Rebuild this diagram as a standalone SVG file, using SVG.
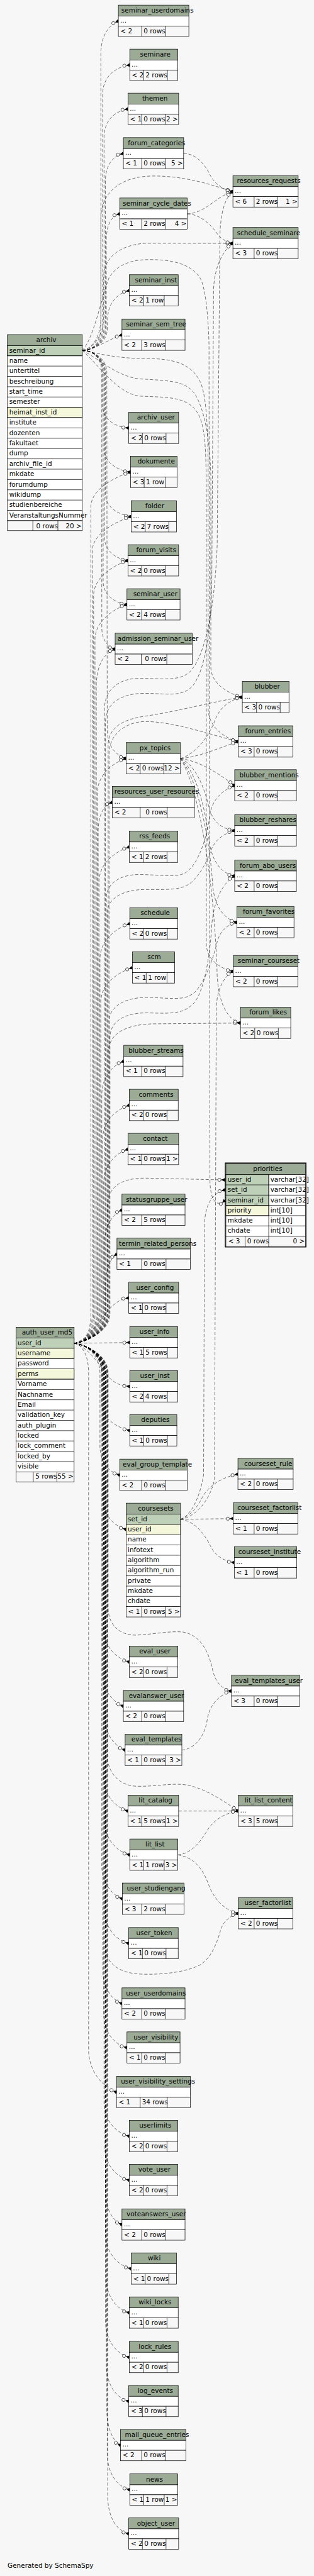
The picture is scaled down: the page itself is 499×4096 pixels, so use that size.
<svg xmlns="http://www.w3.org/2000/svg" width="499" height="4096" viewBox="0 0 499 4096">
<style>
.hd{fill:#9bab96;stroke:#000;stroke-width:1}
.bd{fill:#fff;stroke:#000;stroke-width:1}
.ft{fill:#f7f7f7;stroke:#000;stroke-width:1}
.pk{fill:#bed1b8;stroke:#000;stroke-width:1}
.ix{fill:#f4f7da;stroke:#000;stroke-width:1}
.dv{stroke:#000;stroke-width:1;fill:none}
text{font-family:"DejaVu Sans",sans-serif;font-size:14.5px;fill:#000}
.e{text-anchor:end}
#connectors path{fill:none;stroke:#000;stroke-width:.75;stroke-dasharray:7 4;marker-end:url(#cf)}
</style>
<defs>
<marker id="cf" viewBox="-17 -6 18 12" refX="0" refY="0" markerWidth="18" markerHeight="12" markerUnits="userSpaceOnUse" orient="auto">
<circle cx="-12" cy="0" r="3.6" fill="#fff" stroke="#000" stroke-width="0.9"/>
<path d="M-8,0 L0,-4 L0,4 Z" fill="#000"/>
</marker>
</defs>
<rect width="499" height="4096" fill="#f7f7f7"/>
<g transform="scale(0.7221 0.7216)">
<g id="connectors">
<path d="M181,772 C205,772 222,755 222,720 L222,115 C223,80 238,56 260.5,46.3"/>
<path d="M181,772 C205,772 226,755 226,720 L226,205 C227,172 250,148 285.6,143.3"/>
<path d="M181,772 C205,772 229,755 229,720 L229,300 C230,268 250,245 281.6,240.3"/>
<path d="M181,772 C205,772 232,755 232,720 L232,395 C233,365 248,343 271.5,338.3"/>
<path d="M181,772 C205,772 234,755 234,720 L234,525 C235,495 245,476 263.5,471.3"/>
<path d="M181,772 C205,772 236,755 236,725 L237,700 C238,668 258,646 284.7,640.3"/>
<path d="M181,772 C210,770 238,748 268.4,738"/>
<path d="M181,772 C205,772 226,790 226,820 L226,895 C227,925 252,940 283.4,943.3"/>
<path d="M181,772 C205,772 229,790 229,820 L229,990 C230,1020 258,1036 287.3,1040.3"/>
<path d="M181,772 C205,772 232,790 232,820 L232,1090 C233,1118 260,1134 288.7,1138.3"/>
<path d="M181,772 C205,772 230,790 230,820 L230,1185 C231,1215 255,1231 281.6,1235.3"/>
<path d="M181,772 C205,772 227,790 227,820 L227,1282 C228,1312 252,1328 279.4,1332.3"/>
<path d="M181,772 C205,772 224,790 224,820 L224,1385 C225,1410 236,1425 253.4,1430.3"/>
<path d="M181,772 C205,772 235,790 235,820 L236,1610 C237,1645 255,1665 277.7,1671.3"/>
<path d="M181,772 C205,768 222,740 222,700 L222,480 C223,420 270,390 330,388 C400,386 460,405 512.6,422.3"/>
<path d="M181,772 C205,768 228,740 228,700 L228,610 C229,568 262,540 320,536 L512.6,536.3"/>
<path d="M404.1,338.3 C430,338 450,360 462,385 C472,405 490,418 512.6,422.3"/>
<path d="M412.1,471.3 C440,470 460,452 475,442 C488,432 500,426 512.6,422.3"/>
<path d="M412.1,471.3 C440,472 465,495 478,515 C488,528 500,534 512.6,536.3"/>
<path d="M181,772 C220,780 260,790 320,790 C380,790 420,800 440,840 C455,870 458,950 458,1050 L458,1560 C458,1600 490,1625 524.5,1634.3"/>
<path d="M181,772 C220,792 260,832 310,835 C370,839 410,838 430,870 C448,900 462,960 464,1050 L464,1470 C464,1505 500,1528 533.3,1536.3"/>
<path d="M181,772 C215,802 260,870 310,873 C370,876 420,872 440,920 C452,950 454,1000 454,1100 L454,2080 C455,2115 485,2135 513.4,2140.3"/>
<path d="M181,772 C205,750 225,650 240,612 C258,582 290,572 330,572 C380,572 420,582 440,612 C452,632 458,690 460,760 L462,2600 C463,2650 478,2660 494.9,2645"/>
<path d="M163,2960 C188,2958 200,2935 200,2895 L200,1115 C202,1075 257,1050 287.3,1040.3"/>
<path d="M163,2960 C188,2958 203,2935 203,2895 L203,1213 C205,1173 259,1148 288.7,1138.3"/>
<path d="M163,2960 C188,2958 206,2935 206,2895 L206,1310 C208,1270 252,1245 281.6,1235.3"/>
<path d="M163,2960 C188,2958 209,2935 209,2895 L209,1407 C211,1367 250,1342 279.4,1332.3"/>
<path d="M163,2960 C188,2958 212,2935 212,2895 L212,1505 C214,1465 228,1440 253.4,1430.3"/>
<path d="M163,2960 C188,2958 214,2935 214,2895 L214,1746 C216,1706 248,1681 277.7,1671.3"/>
<path d="M163,2960 C188,2958 216,2935 216,2895 L216,1830 C217,1795 228,1774 247.2,1768"/>
<path d="M163,2960 C188,2958 218,2935 218,2895 L218,1940 C220,1900 255,1876 284.7,1866.3"/>
<path d="M163,2960 C188,2958 220,2935 220,2895 L220,2110 C222,2070 256,2045 285.6,2035.3"/>
<path d="M163,2960 C188,2958 222,2935 222,2895 L222,2205 C224,2165 262,2142 291.3,2132.3"/>
<path d="M163,2960 C188,2958 224,2935 224,2895 L224,2410 C226,2370 248,2348 272.4,2338.3"/>
<path d="M163,2960 C188,2958 226,2935 226,2895 L226,2508 C228,2468 256,2445 284.7,2435.3"/>
<path d="M163,2960 C188,2958 228,2935 228,2895 L228,2605 C230,2565 254,2542 281.6,2532.3"/>
<path d="M163,2960 C188,2958 230,2935 230,2895 L230,2735 C232,2700 248,2675 268.4,2666.3"/>
<path d="M163,2960 C188,2958 232,2935 232,2895 L232,2830 C233,2795 243,2772 257.4,2763.3"/>
<path d="M163,2960 C200,2950 225,2900 240,2885 C255,2870 265,2862 283.4,2860.3"/>
<path d="M163,2960 L285.6,2958.3"/>
<path d="M163,2960 C188,2958 236,2935 236,2895 L236,2660 C237,2615 265,2596 320,2596 L494.9,2600"/>
<path d="M163,2960 C188,2958 238,2935 238,2895 L238,2320 C239,2278 275,2257 340,2256 L529.3,2254.3"/>
<path d="M163,2960 C188,2958 240,2935 240,2895 L240,2250 C241,2215 280,2196 330,2198 C385,2200 410,2205 430,2185 C452,2162 470,2110 478,2075 C485,2050 500,2038 521.4,2032.3"/>
<path d="M163,2960 C188,2958 242,2935 242,2895 L242,2285 C243,2250 275,2230 330,2232 C385,2234 405,2232 425,2212 C448,2190 462,2110 466,2040 C470,1985 490,1945 516.5,1930.3"/>
<path d="M163,2960 C188,2958 236,2935 236,2895 L236,2010 C237,1980 270,1960 320,1960 C370,1960 400,1962 420,1945 C440,1928 455,1900 465,1872 C475,1848 495,1836 516.5,1830.3"/>
<path d="M163,2960 C188,2958 234,2935 234,2895 L234,1978 C235,1946 265,1926 310,1927 C360,1928 390,1935 410,1922 C440,1900 456,1840 462,1795 C467,1760 492,1740 516.5,1731"/>
<path d="M163,2960 C188,2958 238,2935 238,2895 L238,1640 C239,1605 268,1585 320,1578 C400,1566 470,1545 533.3,1536.3"/>
<path d="M163,2960 C188,2958 240,2935 240,2895 L240,1660 C241,1615 280,1590 320,1590 C380,1590 450,1615 524.5,1634.3"/>
<path d="M163,2960 C188,2958 230,2935 230,2895 L230,1560 C231,1520 260,1497 300,1495 C350,1493 395,1505 420,1478 C450,1445 472,1350 478,1200 L484,520 C485,470 495,435 512.6,422.3"/>
<path d="M163,2960 C188,2958 232,2935 232,2895 L232,1590 C233,1550 265,1530 310,1528 C360,1526 400,1540 425,1510 C450,1478 462,1400 466,1300 L470,640 C471,590 490,552 512.6,536.3"/>
<path d="M397.1,1671.3 C430,1662 458,1625 472,1590 C482,1560 505,1542 533.3,1536.3"/>
<path d="M397.1,1671.3 C440,1668 480,1648 524.5,1634.3"/>
<path d="M397.1,1671.3 C440,1678 475,1700 516.5,1731"/>
<path d="M397.1,1671.3 C430,1685 450,1735 460,1780 C470,1815 490,1826 516.5,1830.3"/>
<path d="M397.1,1671.3 C430,1695 452,1780 460,1850 C466,1900 488,1925 516.5,1930.3"/>
<path d="M397.1,1671.3 C435,1715 462,1850 468,1950 C472,2000 495,2026 521.4,2032.3"/>
<path d="M397.1,1671.3 C440,1740 472,1950 478,2150 C482,2220 505,2248 529.3,2254.3"/>
<path d="M397.1,3347.8 C420,3340 440,3300 448,3250 L450,2700 C451,2650 470,2628 494.9,2622"/>
<path d="M397.1,3347.8 C425,3345 462,3310 472,3260 L476,2220 C478,2175 495,2150 513.4,2140.3"/>
<path d="M397.1,3347.8 C420,3340 435,3320 445,3300 C460,3272 490,3255 523.6,3248.3"/>
<path d="M397.1,3347.8 L513.4,3346.3"/>
<path d="M397.1,3347.8 C430,3352 450,3380 465,3410 C475,3430 495,3440 515.6,3443.3"/>
<path d="M163,2960 C200,2970 225,3020 240,3035 C255,3050 265,3053 285.6,3055.3"/>
<path d="M163,2960 C188,2962 224,2985 224,3025 L224,3095 C226,3125 255,3145 285.6,3152.3"/>
<path d="M163,2960 C188,2962 220,2985 220,3025 L220,3190 C222,3225 240,3243 263.5,3250.3"/>
<path d="M163,2960 C188,2962 226,2985 226,3025 L226,3300 C228,3340 250,3362 277.7,3370.3"/>
<path d="M163,2960 C188,2962 228,2985 228,3025 L228,3590 C230,3630 256,3654 284.7,3662.3"/>
<path d="M163,2960 C188,2962 225,2985 225,3025 L225,3690 C227,3725 248,3750 271.5,3759.7"/>
<path d="M163,2960 C188,2962 230,2985 230,3025 L230,3785 C232,3822 252,3848 275.4,3856.3"/>
<path d="M163,2960 C188,2962 228,2985 228,3025 L228,3920 C230,3958 255,3982 281.6,3990.7"/>
<path d="M163,2960 C188,2962 230,2985 230,3025 L230,4015 C232,4055 258,4080 285.6,4087.3"/>
<path d="M163,2960 C188,2962 224,2985 224,3025 L224,4115 C226,4150 246,4175 269.3,4184.3"/>
<path d="M163,2960 C188,2962 230,2985 230,3025 L230,4210 C232,4250 255,4275 283.4,4282.3"/>
<path d="M163,2960 C188,2962 226,2985 226,3025 L226,4345 C228,4382 246,4406 268.4,4415.3"/>
<path d="M163,2960 C188,2962 228,2985 228,3025 L228,4440 C230,4480 252,4505 279.4,4512.3"/>
<path d="M163,2960 C180,2962 195,2985 195,3025 L195,4520 C197,4570 230,4600 256.5,4610.3"/>
<path d="M163,2960 C188,2962 229,2985 229,3025 L229,4635 C231,4675 256,4700 284.7,4707.3"/>
<path d="M163,2960 C188,2962 230,2985 230,3025 L230,4730 C232,4772 256,4797 284.7,4804.3"/>
<path d="M163,2960 C188,2962 232,2985 232,3025 L232,4835 C234,4870 248,4893 268.4,4902.3"/>
<path d="M163,2960 C188,2962 232,2985 232,3025 L232,4925 C234,4966 260,4992 288.7,4999.3"/>
<path d="M163,2960 C188,2962 233,2985 233,3025 L233,5020 C235,5062 257,5089 284.7,5096.3"/>
<path d="M163,2960 C188,2962 232,2985 232,3025 L232,5118 C234,5160 257,5187 284.7,5194.3"/>
<path d="M163,2960 C188,2962 234,2985 234,3025 L234,5215 C236,5257 256,5284 283.4,5291.3"/>
<path d="M163,2960 C188,2962 235,2985 235,3025 L235,5315 C237,5352 248,5379 265.3,5388.3"/>
<path d="M163,2960 C188,2962 236,2985 236,3025 L236,5410 C238,5452 258,5479 285.6,5486.3"/>
<path d="M163,2960 C188,2962 237,2985 237,3025 L237,5505 C239,5548 256,5576 283.4,5583.3"/>
<path d="M163,2960 C188,2962 238,2985 238,3025 L238,3545 C239,3582 265,3604 300,3603 C340,3601 370,3594 400,3596 C440,3600 460,3640 468,3680 C475,3710 490,3722 509.5,3726.3"/>
<path d="M163,2960 C188,2962 236,2985 236,3025 L236,3870 C237,3905 262,3935 300,3936 C340,3937 370,3930 400,3932 C440,3935 480,3960 524.5,3990.7"/>
<path d="M163,2960 C188,2962 232,2985 232,3025 L232,4290 C233,4325 260,4348 310,4350 C360,4352 410,4345 440,4330 C465,4315 478,4280 485,4255 C490,4235 505,4222 524.5,4216.3"/>
<path d="M400.2,3856.3 C425,3855 450,3830 456,3790 C460,3760 480,3735 509.5,3726.3"/>
<path d="M393.1,3990.7 L524.5,3990.7"/>
<path d="M391.4,4087.3 C420,4085 440,4060 455,4035 C470,4010 495,3995 524.5,3990.7"/>
<path d="M391.4,4087.3 C425,4092 445,4115 458,4150 C470,4185 495,4210 524.5,4216.3"/>
</g>

<g id="archiv" transform="translate(16.3 737.3)">
<rect class="hd" width="164.8" height="24"/>
<rect class="bd" y="24" width="164.8" height="386"/>
<rect class="pk" y="24" width="164.8" height="22.7"/>
<rect class="ix" y="160.2" width="164.8" height="22.7"/>
<path class="dv" d="M0 46.7H164.8M0 69.4H164.8M0 92.1H164.8M0 114.8H164.8M0 137.5H164.8M0 160.2H164.8M0 182.9H164.8M0 205.6H164.8M0 228.4H164.8M0 251.1H164.8M0 273.8H164.8M0 296.5H164.8M0 319.2H164.8M0 341.9H164.8M0 364.6H164.8M0 387.3H164.8"/>
<rect class="ft" y="410" width="164.8" height="22"/>
<path class="dv" d="M56 410v22M111.1 410v22"/>
<text x="63.5" y="16.5">archiv</text>
<text x="4" y="39.5">seminar_id</text>
<text x="4" y="62.2">name</text>
<text x="4" y="84.9">untertitel</text>
<text x="4" y="107.6">beschreibung</text>
<text x="4" y="130.3">start_time</text>
<text x="4" y="153">semester</text>
<text x="4" y="175.7">heimat_inst_id</text>
<text x="4" y="198.4">institute</text>
<text x="4" y="221.2">dozenten</text>
<text x="4" y="243.9">fakultaet</text>
<text x="4" y="266.6">dump</text>
<text x="4" y="289.3">archiv_file_id</text>
<text x="4" y="312">mkdate</text>
<text x="4" y="334.7">forumdump</text>
<text x="4" y="357.4">wikidump</text>
<text x="4" y="380.1">studienbereiche</text>
<text x="4" y="402.8">VeranstaltungsNummer</text>
<text x="63.5" y="426.5">0 rows</text>
<text class="e" x="163.3" y="426.5">20 &gt;</text>
</g>

<g id="auth_user_md5" transform="translate(35.3 2924.7)">
<rect class="hd" width="127.8" height="23.6"/>
<rect class="bd" y="23.6" width="127.8" height="295"/>
<rect class="pk" y="23.6" width="127.8" height="22.7"/>
<rect class="ix" y="46.3" width="127.8" height="22.7"/>
<rect class="ix" y="91.7" width="127.8" height="22.7"/>
<path class="dv" d="M0 69H127.8M0 114.4H127.8M0 137.1H127.8M0 159.7H127.8M0 182.4H127.8M0 205.1H127.8M0 227.8H127.8M0 250.5H127.8M0 273.2H127.8M0 295.9H127.8"/>
<rect class="ft" y="318.6" width="127.8" height="22"/>
<path class="dv" d="M37.9 318.6v22M89.9 318.6v22"/>
<text x="12.7" y="16.3">auth_user_md5</text>
<text x="3.5" y="39.1">user_id</text>
<text x="3.5" y="61.8">username</text>
<text x="3.5" y="84.5">password</text>
<text x="3.5" y="107.2">perms</text>
<text x="3.5" y="129.9">Vorname</text>
<text x="3.5" y="152.6">Nachname</text>
<text x="3.5" y="175.2">Email</text>
<text x="3.5" y="197.9">validation_key</text>
<text x="3.5" y="220.6">auth_plugin</text>
<text x="3.5" y="243.3">locked</text>
<text x="3.5" y="266">lock_comment</text>
<text x="3.5" y="288.7">locked_by</text>
<text x="3.5" y="311.4">visible</text>
<text x="42.7" y="334">5 rows</text>
<text class="e" x="126.3" y="334">55 &gt;</text>
</g>

<g id="coursesets" transform="translate(277.7 3312.3)">
<rect class="hd" width="119.4" height="24"/>
<rect class="bd" y="24" width="119.4" height="204"/>
<rect class="pk" y="24" width="119.4" height="22.7"/>
<rect class="ix" y="46.7" width="119.4" height="22.6"/>
<path class="dv" d="M0 92H119.4M0 114.7H119.4M0 137.3H119.4M0 160H119.4M0 182.7H119.4M0 205.3H119.4"/>
<rect class="ft" y="228" width="119.4" height="22.7"/>
<path class="dv" d="M34.3 228v22.7M86.8 228v22.7"/>
<text x="26" y="16.5">coursesets</text>
<text x="3.5" y="39.5">set_id</text>
<text x="3.5" y="62.2">user_id</text>
<text x="3.5" y="84.8">name</text>
<text x="3.5" y="107.5">infotext</text>
<text x="3.5" y="130.2">algorithm</text>
<text x="3.5" y="152.8">algorithm_run</text>
<text x="3.5" y="175.5">private</text>
<text x="3.5" y="198.2">mkdate</text>
<text x="3.5" y="220.8">chdate</text>
<text x="4.3" y="244">&lt; 1</text>
<text x="38.3" y="244">0 rows</text>
<text class="e" x="117.9" y="244">5 &gt;</text>
</g>

<g id="priorities">
<rect x="495.8" y="2562.6" width="177.6" height="185.2" fill="none" stroke="#000" stroke-width="1.8"/>
<rect class="hd" x="497.1" y="2564" width="175" height="24.3"/>
<rect class="bd" x="497.1" y="2588.3" width="175" height="135.6"/>
<rect class="pk" x="497.1" y="2588.3" width="94.3" height="67.8"/>
<rect class="ix" x="497.1" y="2656.1" width="94.3" height="22.6"/>
<path class="dv" d="M497.1 2610.9H672.1M497.1 2633.5H672.1M497.1 2656.1H672.1M497.1 2678.7H672.1M497.1 2701.3H672.1M591.4 2588.3V2723.9"/>
<rect class="ft" x="497.1" y="2723.9" width="175" height="23.1"/>
<path class="dv" d="M539.4 2723.9v23.1M591.4 2723.9v23.1"/>
<text x="557.1" y="2580.5">priorities</text>
<text x="501.1" y="2603.8">user_id</text>
<text x="501.1" y="2626.4">set_id</text>
<text x="501.1" y="2649">seminar_id</text>
<text x="501.1" y="2671.6">priority</text>
<text x="501.1" y="2694.2">mkdate</text>
<text x="501.1" y="2716.8">chdate</text>
<text x="595" y="2603.8">varchar[32]</text>
<text x="595" y="2626.4">varchar[32]</text>
<text x="595" y="2649">varchar[32]</text>
<text x="595" y="2671.6">int[10]</text>
<text x="595" y="2694.2">int[10]</text>
<text x="595" y="2716.8">int[10]</text>
<text x="502.4" y="2739.8">&lt; 3</text>
<text x="543.8" y="2739.8">0 rows</text>
<text class="e" x="670.6" y="2739.8">0 &gt;</text>
</g>

<g id="seminar_userdomains" transform="translate(260.5 11.3)"><rect class="hd" width="155.1" height="24"/><rect class="bd" y="24" width="155.1" height="22"/><rect class="ft" y="46" width="155.1" height="23"/><path class="dv" d="M51.5 46v23M104 46v23"/><text x="6.6" y="16.5">seminar_userdomains</text><text x="4" y="38">...</text><text x="4.5" y="61.5">&lt; 2</text><text x="55.5" y="61.5">0 rows</text></g>
<g id="seminare" transform="translate(285.6 108.3)"><rect class="hd" width="105.8" height="24"/><rect class="bd" y="24" width="105.8" height="22"/><rect class="ft" y="46" width="105.8" height="23"/><path class="dv" d="M30.8 46v23M82.8 46v23"/><text x="22.5" y="16.5">seminare</text><text x="4" y="38">...</text><text x="4.5" y="61.5">&lt; 2</text><text x="34.8" y="61.5">2 rows</text></g>
<g id="themen" transform="translate(281.6 205.3)"><rect class="hd" width="111.5" height="24"/><rect class="bd" y="24" width="111.5" height="22"/><rect class="ft" y="46" width="111.5" height="23"/><path class="dv" d="M30.4 46v23M82.9 46v23"/><text x="31.3" y="16.5">themen</text><text x="4" y="38">...</text><text x="4.5" y="61.5">&lt; 1</text><text x="34.4" y="61.5">0 rows</text><text class="e" x="110" y="61.5">2 &gt;</text></g>
<g id="forum_categories" transform="translate(271.5 303.3)"><rect class="hd" width="132.6" height="24"/><rect class="bd" y="24" width="132.6" height="22"/><rect class="ft" y="46" width="132.6" height="23"/><path class="dv" d="M40.5 46v23M93 46v23"/><text x="10.1" y="16.5">forum_categories</text><text x="4" y="38">...</text><text x="4.5" y="61.5">&lt; 1</text><text x="44.5" y="61.5">0 rows</text><text class="e" x="131.1" y="61.5">5 &gt;</text></g>
<g id="resources_requests" transform="translate(512.6 387.3)"><rect class="hd" width="143.6" height="24"/><rect class="bd" y="24" width="143.6" height="22"/><rect class="ft" y="46" width="143.6" height="23"/><path class="dv" d="M46.7 46v23M98.7 46v23"/><text x="8.8" y="16.5">resources_requests</text><text x="4" y="38">...</text><text x="4.5" y="61.5">&lt; 6</text><text x="50.7" y="61.5">2 rows</text><text class="e" x="142.1" y="61.5">1 &gt;</text></g>
<g id="seminar_cycle_dates" transform="translate(263.5 436.3)"><rect class="hd" width="148.6" height="24"/><rect class="bd" y="24" width="148.6" height="22"/><rect class="ft" y="46" width="148.6" height="23"/><path class="dv" d="M48.5 46v23M101 46v23"/><text x="6.7" y="16.5">seminar_cycle_dates</text><text x="4" y="38">...</text><text x="4.5" y="61.5">&lt; 1</text><text x="52.5" y="61.5">2 rows</text><text class="e" x="147.1" y="61.5">4 &gt;</text></g>
<g id="schedule_seminare" transform="translate(512.6 501.3)"><rect class="hd" width="143.6" height="24"/><rect class="bd" y="24" width="143.6" height="22"/><rect class="ft" y="46" width="143.6" height="23"/><path class="dv" d="M46.7 46v23M98.7 46v23"/><text x="8.8" y="16.5">schedule_seminare</text><text x="4" y="38">...</text><text x="4.5" y="61.5">&lt; 3</text><text x="50.7" y="61.5">0 rows</text></g>
<g id="seminar_inst" transform="translate(284.7 605.3)"><rect class="hd" width="107.5" height="24"/><rect class="bd" y="24" width="107.5" height="22"/><rect class="ft" y="46" width="107.5" height="23"/><path class="dv" d="M31.7 46v23M76.7 46v23"/><text x="12.3" y="16.5">seminar_inst</text><text x="4" y="38">...</text><text x="4.5" y="61.5">&lt; 2</text><text x="35.7" y="61.5">1 row</text></g>
<g id="seminar_sem_tree" transform="translate(268.4 703)"><rect class="hd" width="138.8" height="24"/><rect class="bd" y="24" width="138.8" height="22"/><rect class="ft" y="46" width="138.8" height="23"/><path class="dv" d="M43.6 46v23M96.1 46v23"/><text x="8.8" y="16.5">seminar_sem_tree</text><text x="4" y="38">...</text><text x="4.5" y="61.5">&lt; 2</text><text x="47.6" y="61.5">3 rows</text></g>
<g id="archiv_user" transform="translate(283.4 908.3)"><rect class="hd" width="109.7" height="24"/><rect class="bd" y="24" width="109.7" height="22"/><rect class="ft" y="46" width="109.7" height="23"/><path class="dv" d="M30 46v23M82 46v23"/><text x="18.1" y="16.5">archiv_user</text><text x="4" y="38">...</text><text x="4.5" y="61.5">&lt; 2</text><text x="34" y="61.5">0 rows</text></g>
<g id="dokumente" transform="translate(287.3 1005.3)"><rect class="hd" width="102.3" height="24"/><rect class="bd" y="24" width="102.3" height="22"/><rect class="ft" y="46" width="102.3" height="23"/><path class="dv" d="M30 46v23M76.3 46v23"/><text x="15.5" y="16.5">dokumente</text><text x="4" y="38">...</text><text x="4.5" y="61.5">&lt; 3</text><text x="34" y="61.5">1 row</text></g>
<g id="folder" transform="translate(288.7 1103.3)"><rect class="hd" width="99.6" height="24"/><rect class="bd" y="24" width="99.6" height="22"/><rect class="ft" y="46" width="99.6" height="23"/><path class="dv" d="M30.8 46v23M82.8 46v23"/><text x="30.8" y="16.5">folder</text><text x="4" y="38">...</text><text x="4.5" y="61.5">&lt; 2</text><text x="34.8" y="61.5">7 rows</text></g>
<g id="forum_visits" transform="translate(281.6 1200.3)"><rect class="hd" width="111.5" height="24"/><rect class="bd" y="24" width="111.5" height="22"/><rect class="ft" y="46" width="111.5" height="23"/><path class="dv" d="M30.4 46v23M82.9 46v23"/><text x="18.1" y="16.5">forum_visits</text><text x="4" y="38">...</text><text x="4.5" y="61.5">&lt; 2</text><text x="34.4" y="61.5">0 rows</text></g>
<g id="seminar_user" transform="translate(279.4 1297.3)"><rect class="hd" width="116.8" height="24"/><rect class="bd" y="24" width="116.8" height="22"/><rect class="ft" y="46" width="116.8" height="23"/><path class="dv" d="M32.6 46v23M85.1 46v23"/><text x="13.7" y="16.5">seminar_user</text><text x="4" y="38">...</text><text x="4.5" y="61.5">&lt; 2</text><text x="36.6" y="61.5">4 rows</text></g>
<g id="admission_seminar_user" transform="translate(253.4 1395.3)"><rect class="hd" width="169.7" height="24"/><rect class="bd" y="24" width="169.7" height="22"/><rect class="ft" y="46" width="169.7" height="23"/><path class="dv" d="M57.7 46v23M113.7 46v23"/><text x="5.3" y="16.5">admission_seminar_user</text><text x="4" y="38">...</text><text x="4.5" y="61.5">&lt; 2</text><text x="65.6" y="61.5">0 rows</text></g>
<g id="blubber" transform="translate(533.3 1501.3)"><rect class="hd" width="102.7" height="24"/><rect class="bd" y="24" width="102.7" height="22"/><rect class="ft" y="46" width="102.7" height="23"/><path class="dv" d="M31.3 46v23M83.3 46v23"/><text x="26.9" y="16.5">blubber</text><text x="4" y="38">...</text><text x="4.5" y="61.5">&lt; 3</text><text x="35.3" y="61.5">0 rows</text></g>
<g id="forum_entries" transform="translate(524.5 1599.3)"><rect class="hd" width="119.8" height="24"/><rect class="bd" y="24" width="119.8" height="22"/><rect class="ft" y="46" width="119.8" height="23"/><path class="dv" d="M34.8 46v23M86.8 46v23"/><text x="14.9" y="16.5">forum_entries</text><text x="4" y="38">...</text><text x="4.5" y="61.5">&lt; 3</text><text x="38.8" y="61.5">0 rows</text></g>
<g id="px_topics" transform="translate(277.7 1636.3)"><rect class="hd" width="119.4" height="24"/><rect class="bd" y="24" width="119.4" height="22"/><rect class="ft" y="46" width="119.4" height="23"/><path class="dv" d="M30.8 46v23M82.8 46v23"/><text x="29.5" y="16.5">px_topics</text><text x="4" y="38">...</text><text x="4.5" y="61.5">&lt; 2</text><text x="34.8" y="61.5">0 rows</text><text class="e" x="117.9" y="61.5">12 &gt;</text></g>
<g id="blubber_mentions" transform="translate(516.5 1696)"><rect class="hd" width="135.8" height="24"/><rect class="bd" y="24" width="135.8" height="22"/><rect class="ft" y="46" width="135.8" height="23"/><path class="dv" d="M42.8 46v23M94.8 46v23"/><text x="10.6" y="16.5">blubber_mentions</text><text x="4" y="38">...</text><text x="4.5" y="61.5">&lt; 2</text><text x="46.8" y="61.5">0 rows</text></g>
<g id="resources_user_resources" transform="translate(247.2 1733)"><rect class="hd" width="180.7" height="24"/><rect class="bd" y="24" width="180.7" height="22"/><rect class="ft" y="46" width="180.7" height="23"/><path class="dv" d="M61.3 46v23M120.8 46v23"/><text x="4.5" y="16.5">resources_user_resources</text><text x="4" y="38">...</text><text x="4.5" y="61.5">&lt; 2</text><text x="73.2" y="61.5">0 rows</text></g>
<g id="blubber_reshares" transform="translate(516.5 1795.3)"><rect class="hd" width="135.8" height="24"/><rect class="bd" y="24" width="135.8" height="22"/><rect class="ft" y="46" width="135.8" height="23"/><path class="dv" d="M42.8 46v23M94.8 46v23"/><text x="10.6" y="16.5">blubber_reshares</text><text x="4" y="38">...</text><text x="4.5" y="61.5">&lt; 2</text><text x="46.8" y="61.5">0 rows</text></g>
<g id="rss_feeds" transform="translate(284.7 1831.3)"><rect class="hd" width="106.7" height="24"/><rect class="bd" y="24" width="106.7" height="22"/><rect class="ft" y="46" width="106.7" height="23"/><path class="dv" d="M30.9 46v23M82.9 46v23"/><text x="21.6" y="16.5">rss_feeds</text><text x="4" y="38">...</text><text x="4.5" y="61.5">&lt; 1</text><text x="34.9" y="61.5">2 rows</text></g>
<g id="forum_abo_users" transform="translate(516.5 1895.3)"><rect class="hd" width="135.8" height="24"/><rect class="bd" y="24" width="135.8" height="22"/><rect class="ft" y="46" width="135.8" height="23"/><path class="dv" d="M42.8 46v23M94.8 46v23"/><text x="11" y="16.5">forum_abo_users</text><text x="4" y="38">...</text><text x="4.5" y="61.5">&lt; 2</text><text x="46.8" y="61.5">0 rows</text></g>
<g id="schedule" transform="translate(285.6 2000.3)"><rect class="hd" width="105.8" height="24"/><rect class="bd" y="24" width="105.8" height="22"/><rect class="ft" y="46" width="105.8" height="23"/><path class="dv" d="M30 46v23M82.8 46v23"/><text x="23.4" y="16.5">schedule</text><text x="4" y="38">...</text><text x="4.5" y="61.5">&lt; 2</text><text x="34" y="61.5">0 rows</text></g>
<g id="forum_favorites" transform="translate(521.4 1997.3)"><rect class="hd" width="125.6" height="24"/><rect class="bd" y="24" width="125.6" height="22"/><rect class="ft" y="46" width="125.6" height="23"/><path class="dv" d="M37.9 46v23M89.9 46v23"/><text x="13.2" y="16.5">forum_favorites</text><text x="4" y="38">...</text><text x="4.5" y="61.5">&lt; 2</text><text x="41.9" y="61.5">0 rows</text></g>
<g id="scm" transform="translate(291.3 2097.3)"><rect class="hd" width="93" height="24"/><rect class="bd" y="24" width="93" height="22"/><rect class="ft" y="46" width="93" height="23"/><path class="dv" d="M30.4 46v23M76.3 46v23"/><text x="33.1" y="16.5">scm</text><text x="4" y="38">...</text><text x="4.5" y="61.5">&lt; 1</text><text x="34.4" y="61.5">1 row</text></g>
<g id="seminar_courseset" transform="translate(513.4 2105.3)"><rect class="hd" width="142" height="24"/><rect class="bd" y="24" width="142" height="22"/><rect class="ft" y="46" width="142" height="23"/><path class="dv" d="M45.9 46v23M97.9 46v23"/><text x="9.7" y="16.5">seminar_courseset</text><text x="4" y="38">...</text><text x="4.5" y="61.5">&lt; 2</text><text x="49.9" y="61.5">0 rows</text></g>
<g id="forum_likes" transform="translate(529.3 2219.3)"><rect class="hd" width="110.6" height="24"/><rect class="bd" y="24" width="110.6" height="22"/><rect class="ft" y="46" width="110.6" height="23"/><path class="dv" d="M31.3 46v23M83.3 46v23"/><text x="19.4" y="16.5">forum_likes</text><text x="4" y="38">...</text><text x="4.5" y="61.5">&lt; 2</text><text x="35.3" y="61.5">0 rows</text></g>
<g id="blubber_streams" transform="translate(272.4 2303.3)"><rect class="hd" width="130.4" height="24"/><rect class="bd" y="24" width="130.4" height="22"/><rect class="ft" y="46" width="130.4" height="23"/><path class="dv" d="M39.6 46v23M92.1 46v23"/><text x="10.5" y="16.5">blubber_streams</text><text x="4" y="38">...</text><text x="4.5" y="61.5">&lt; 1</text><text x="43.6" y="61.5">0 rows</text></g>
<g id="comments" transform="translate(284.7 2400.3)"><rect class="hd" width="107.5" height="24"/><rect class="bd" y="24" width="107.5" height="22"/><rect class="ft" y="46" width="107.5" height="23"/><path class="dv" d="M30.9 46v23M82.9 46v23"/><text x="20.7" y="16.5">comments</text><text x="4" y="38">...</text><text x="4.5" y="61.5">&lt; 2</text><text x="34.9" y="61.5">0 rows</text></g>
<g id="contact" transform="translate(281.6 2497.3)"><rect class="hd" width="111.5" height="24"/><rect class="bd" y="24" width="111.5" height="22"/><rect class="ft" y="46" width="111.5" height="23"/><path class="dv" d="M30.4 46v23M82.9 46v23"/><text x="33.1" y="16.5">contact</text><text x="4" y="38">...</text><text x="4.5" y="61.5">&lt; 1</text><text x="34.4" y="61.5">0 rows</text><text class="e" x="110" y="61.5">1 &gt;</text></g>
<g id="statusgruppe_user" transform="translate(268.4 2631.3)"><rect class="hd" width="138.8" height="24"/><rect class="bd" y="24" width="138.8" height="22"/><rect class="ft" y="46" width="138.8" height="23"/><path class="dv" d="M43.6 46v23M96.1 46v23"/><text x="8.8" y="16.5">statusgruppe_user</text><text x="4" y="38">...</text><text x="4.5" y="61.5">&lt; 2</text><text x="47.6" y="61.5">5 rows</text></g>
<g id="termin_related_persons" transform="translate(257.4 2728.3)"><rect class="hd" width="161.7" height="24"/><rect class="bd" y="24" width="161.7" height="22"/><rect class="ft" y="46" width="161.7" height="23"/><path class="dv" d="M54.6 46v23M108 46v23"/><text x="4.4" y="16.5">termin_related_persons</text><text x="4" y="38">...</text><text x="4.5" y="61.5">&lt; 1</text><text x="58.6" y="61.5">0 rows</text></g>
<g id="user_config" transform="translate(283.4 2825.3)"><rect class="hd" width="109.7" height="24"/><rect class="bd" y="24" width="109.7" height="22"/><rect class="ft" y="46" width="109.7" height="23"/><path class="dv" d="M30 46v23M82 46v23"/><text x="16.3" y="16.5">user_config</text><text x="4" y="38">...</text><text x="4.5" y="61.5">&lt; 1</text><text x="34" y="61.5">0 rows</text></g>
<g id="user_info" transform="translate(285.6 2923.3)"><rect class="hd" width="105.8" height="24"/><rect class="bd" y="24" width="105.8" height="22"/><rect class="ft" y="46" width="105.8" height="23"/><path class="dv" d="M30.8 46v23M82.8 46v23"/><text x="21.6" y="16.5">user_info</text><text x="4" y="38">...</text><text x="4.5" y="61.5">&lt; 1</text><text x="34.8" y="61.5">5 rows</text></g>
<g id="user_inst" transform="translate(285.6 3020.3)"><rect class="hd" width="105.8" height="24"/><rect class="bd" y="24" width="105.8" height="22"/><rect class="ft" y="46" width="105.8" height="23"/><path class="dv" d="M30 46v23M82.8 46v23"/><text x="22.5" y="16.5">user_inst</text><text x="4" y="38">...</text><text x="4.5" y="61.5">&lt; 2</text><text x="34" y="61.5">4 rows</text></g>
<g id="deputies" transform="translate(285.6 3117.3)"><rect class="hd" width="103.6" height="24"/><rect class="bd" y="24" width="103.6" height="22"/><rect class="ft" y="46" width="103.6" height="23"/><path class="dv" d="M30.8 46v23M82.8 46v23"/><text x="25.1" y="16.5">deputies</text><text x="4" y="38">...</text><text x="4.5" y="61.5">&lt; 1</text><text x="34.8" y="61.5">0 rows</text></g>
<g id="eval_group_template" transform="translate(263.5 3215.3)"><rect class="hd" width="148.6" height="24"/><rect class="bd" y="24" width="148.6" height="22"/><rect class="ft" y="46" width="148.6" height="23"/><path class="dv" d="M48.5 46v23M101 46v23"/><text x="6.7" y="16.5">eval_group_template</text><text x="4" y="38">...</text><text x="4.5" y="61.5">&lt; 2</text><text x="52.5" y="61.5">0 rows</text></g>
<g id="courseset_rule" transform="translate(523.6 3213.3)"><rect class="hd" width="121.6" height="24"/><rect class="bd" y="24" width="121.6" height="22"/><rect class="ft" y="46" width="121.6" height="23"/><path class="dv" d="M35.7 46v23M87.7 46v23"/><text x="13.6" y="16.5">courseset_rule</text><text x="4" y="38">...</text><text x="4.5" y="61.5">&lt; 2</text><text x="39.7" y="61.5">0 rows</text></g>
<g id="courseset_factorlist" transform="translate(513.4 3311.3)"><rect class="hd" width="142" height="24"/><rect class="bd" y="24" width="142" height="22"/><rect class="ft" y="46" width="142" height="23"/><path class="dv" d="M45.9 46v23M97.9 46v23"/><text x="8.9" y="16.5">courseset_factorlist</text><text x="4" y="38">...</text><text x="4.5" y="61.5">&lt; 1</text><text x="49.9" y="61.5">0 rows</text></g>
<g id="courseset_institute" transform="translate(515.6 3408.3)"><rect class="hd" width="137.6" height="24"/><rect class="bd" y="24" width="137.6" height="22"/><rect class="ft" y="46" width="137.6" height="23"/><path class="dv" d="M43.7 46v23M95.7 46v23"/><text x="8.9" y="16.5">courseset_institute</text><text x="4" y="38">...</text><text x="4.5" y="61.5">&lt; 1</text><text x="47.7" y="61.5">0 rows</text></g>
<g id="eval_user" transform="translate(284.7 3627.3)"><rect class="hd" width="106.7" height="24"/><rect class="bd" y="24" width="106.7" height="22"/><rect class="ft" y="46" width="106.7" height="23"/><path class="dv" d="M30.9 46v23M82.9 46v23"/><text x="21.6" y="16.5">eval_user</text><text x="4" y="38">...</text><text x="4.5" y="61.5">&lt; 2</text><text x="34.9" y="61.5">0 rows</text></g>
<g id="eval_templates_user" transform="translate(509.5 3691.3)"><rect class="hd" width="149.8" height="24"/><rect class="bd" y="24" width="149.8" height="22"/><rect class="ft" y="46" width="149.8" height="23"/><path class="dv" d="M49.8 46v23M101.8 46v23"/><text x="7.5" y="16.5">eval_templates_user</text><text x="4" y="38">...</text><text x="4.5" y="61.5">&lt; 3</text><text x="53.8" y="61.5">0 rows</text></g>
<g id="evalanswer_user" transform="translate(271.5 3724.7)"><rect class="hd" width="132.6" height="24"/><rect class="bd" y="24" width="132.6" height="22"/><rect class="ft" y="46" width="132.6" height="23"/><path class="dv" d="M40.5 46v23M93 46v23"/><text x="11.9" y="16.5">evalanswer_user</text><text x="4" y="38">...</text><text x="4.5" y="61.5">&lt; 2</text><text x="44.5" y="61.5">0 rows</text></g>
<g id="eval_templates" transform="translate(275.4 3821.3)"><rect class="hd" width="124.8" height="24"/><rect class="bd" y="24" width="124.8" height="22"/><rect class="ft" y="46" width="124.8" height="23"/><path class="dv" d="M36.6 46v23M89.1 46v23"/><text x="13.7" y="16.5">eval_templates</text><text x="4" y="38">...</text><text x="4.5" y="61.5">&lt; 1</text><text x="40.6" y="61.5">0 rows</text><text class="e" x="123.3" y="61.5">3 &gt;</text></g>
<g id="lit_catalog" transform="translate(281.6 3955.7)"><rect class="hd" width="111.5" height="24"/><rect class="bd" y="24" width="111.5" height="22"/><rect class="ft" y="46" width="111.5" height="23"/><path class="dv" d="M30.4 46v23M82.9 46v23"/><text x="23.4" y="16.5">lit_catalog</text><text x="4" y="38">...</text><text x="4.5" y="61.5">&lt; 1</text><text x="34.4" y="61.5">5 rows</text><text class="e" x="110" y="61.5">1 &gt;</text></g>
<g id="lit_list_content" transform="translate(524.5 3955.7)"><rect class="hd" width="119.8" height="24"/><rect class="bd" y="24" width="119.8" height="22"/><rect class="ft" y="46" width="119.8" height="23"/><path class="dv" d="M34.8 46v23M86.8 46v23"/><text x="14.1" y="16.5">lit_list_content</text><text x="4" y="38">...</text><text x="4.5" y="61.5">&lt; 3</text><text x="38.8" y="61.5">5 rows</text></g>
<g id="lit_list" transform="translate(285.6 4052.3)"><rect class="hd" width="105.8" height="24"/><rect class="bd" y="24" width="105.8" height="22"/><rect class="ft" y="46" width="105.8" height="23"/><path class="dv" d="M30.8 46v23M75.8 46v23"/><text x="34.4" y="16.5">lit_list</text><text x="4" y="38">...</text><text x="4.5" y="61.5">&lt; 1</text><text x="34.8" y="61.5">1 row</text><text class="e" x="104.3" y="61.5">3 &gt;</text></g>
<g id="user_studiengang" transform="translate(269.3 4149.3)"><rect class="hd" width="135.7" height="24"/><rect class="bd" y="24" width="135.7" height="22"/><rect class="ft" y="46" width="135.7" height="23"/><path class="dv" d="M42.7 46v23M95.2 46v23"/><text x="9.7" y="16.5">user_studiengang</text><text x="4" y="38">...</text><text x="4.5" y="61.5">&lt; 3</text><text x="46.7" y="61.5">2 rows</text></g>
<g id="user_factorlist" transform="translate(524.5 4181.3)"><rect class="hd" width="119.8" height="24"/><rect class="bd" y="24" width="119.8" height="22"/><rect class="ft" y="46" width="119.8" height="23"/><path class="dv" d="M34.8 46v23M86.8 46v23"/><text x="13.6" y="16.5">user_factorlist</text><text x="4" y="38">...</text><text x="4.5" y="61.5">&lt; 2</text><text x="38.8" y="61.5">0 rows</text></g>
<g id="user_token" transform="translate(283.4 4247.3)"><rect class="hd" width="108.8" height="24"/><rect class="bd" y="24" width="108.8" height="22"/><rect class="ft" y="46" width="108.8" height="23"/><path class="dv" d="M30 46v23M82 46v23"/><text x="16.3" y="16.5">user_token</text><text x="4" y="38">...</text><text x="4.5" y="61.5">&lt; 1</text><text x="34" y="61.5">0 rows</text></g>
<g id="user_userdomains" transform="translate(268.4 4380.3)"><rect class="hd" width="138.8" height="24"/><rect class="bd" y="24" width="138.8" height="22"/><rect class="ft" y="46" width="138.8" height="23"/><path class="dv" d="M43.6 46v23M96.1 46v23"/><text x="8.8" y="16.5">user_userdomains</text><text x="4" y="38">...</text><text x="4.5" y="61.5">&lt; 2</text><text x="47.6" y="61.5">0 rows</text></g>
<g id="user_visibility" transform="translate(279.4 4477.3)"><rect class="hd" width="116.8" height="24"/><rect class="bd" y="24" width="116.8" height="22"/><rect class="ft" y="46" width="116.8" height="23"/><path class="dv" d="M32.6 46v23M85.1 46v23"/><text x="14.6" y="16.5">user_visibility</text><text x="4" y="38">...</text><text x="4.5" y="61.5">&lt; 1</text><text x="36.6" y="61.5">0 rows</text></g>
<g id="user_visibility_settings" transform="translate(256.5 4575.3)"><rect class="hd" width="162.6" height="24"/><rect class="bd" y="24" width="162.6" height="22"/><rect class="ft" y="46" width="162.6" height="23"/><path class="dv" d="M52 46v23M111.5 46v23"/><text x="9.7" y="16.5">user_visibility_settings</text><text x="4" y="38">...</text><text x="4.5" y="61.5">&lt; 1</text><text x="56" y="61.5">34 rows</text></g>
<g id="userlimits" transform="translate(284.7 4672.3)"><rect class="hd" width="106.7" height="24"/><rect class="bd" y="24" width="106.7" height="22"/><rect class="ft" y="46" width="106.7" height="23"/><path class="dv" d="M30.9 46v23M82.9 46v23"/><text x="21.6" y="16.5">userlimits</text><text x="4" y="38">...</text><text x="4.5" y="61.5">&lt; 2</text><text x="34.9" y="61.5">0 rows</text></g>
<g id="vote_user" transform="translate(284.7 4769.3)"><rect class="hd" width="106.7" height="24"/><rect class="bd" y="24" width="106.7" height="22"/><rect class="ft" y="46" width="106.7" height="23"/><path class="dv" d="M30.9 46v23M82.9 46v23"/><text x="19.8" y="16.5">vote_user</text><text x="4" y="38">...</text><text x="4.5" y="61.5">&lt; 2</text><text x="34.9" y="61.5">0 rows</text></g>
<g id="voteanswers_user" transform="translate(268.4 4867.3)"><rect class="hd" width="138.8" height="24"/><rect class="bd" y="24" width="138.8" height="22"/><rect class="ft" y="46" width="138.8" height="23"/><path class="dv" d="M43.6 46v23M96.1 46v23"/><text x="10.1" y="16.5">voteanswers_user</text><text x="4" y="38">...</text><text x="4.5" y="61.5">&lt; 2</text><text x="47.6" y="61.5">0 rows</text></g>
<g id="wiki" transform="translate(288.7 4964.3)"><rect class="hd" width="99.6" height="24"/><rect class="bd" y="24" width="99.6" height="22"/><rect class="ft" y="46" width="99.6" height="23"/><path class="dv" d="M30.8 46v23M82.8 46v23"/><text x="36.6" y="16.5">wiki</text><text x="4" y="38">...</text><text x="4.5" y="61.5">&lt; 1</text><text x="34.8" y="61.5">0 rows</text></g>
<g id="wiki_locks" transform="translate(284.7 5061.3)"><rect class="hd" width="107.5" height="24"/><rect class="bd" y="24" width="107.5" height="22"/><rect class="ft" y="46" width="107.5" height="23"/><path class="dv" d="M30.9 46v23M82.9 46v23"/><text x="20.3" y="16.5">wiki_locks</text><text x="4" y="38">...</text><text x="4.5" y="61.5">&lt; 1</text><text x="34.9" y="61.5">0 rows</text></g>
<g id="lock_rules" transform="translate(284.7 5159.3)"><rect class="hd" width="107.5" height="24"/><rect class="bd" y="24" width="107.5" height="22"/><rect class="ft" y="46" width="107.5" height="23"/><path class="dv" d="M30.9 46v23M82.9 46v23"/><text x="20.3" y="16.5">lock_rules</text><text x="4" y="38">...</text><text x="4.5" y="61.5">&lt; 2</text><text x="34.9" y="61.5">0 rows</text></g>
<g id="log_events" transform="translate(283.4 5256.3)"><rect class="hd" width="108.8" height="24"/><rect class="bd" y="24" width="108.8" height="22"/><rect class="ft" y="46" width="108.8" height="23"/><path class="dv" d="M30 46v23M82 46v23"/><text x="19.4" y="16.5">log_events</text><text x="4" y="38">...</text><text x="4.5" y="61.5">&lt; 3</text><text x="34" y="61.5">0 rows</text></g>
<g id="mail_queue_entries" transform="translate(265.3 5353.3)"><rect class="hd" width="143.7" height="24"/><rect class="bd" y="24" width="143.7" height="22"/><rect class="ft" y="46" width="143.7" height="23"/><path class="dv" d="M46.7 46v23M99.2 46v23"/><text x="9.7" y="16.5">mail_queue_entries</text><text x="4" y="38">...</text><text x="4.5" y="61.5">&lt; 2</text><text x="50.7" y="61.5">0 rows</text></g>
<g id="news" transform="translate(285.6 5451.3)"><rect class="hd" width="105.8" height="24"/><rect class="bd" y="24" width="105.8" height="22"/><rect class="ft" y="46" width="105.8" height="23"/><path class="dv" d="M30.8 46v23M75.8 46v23"/><text x="35.7" y="16.5">news</text><text x="4" y="38">...</text><text x="4.5" y="61.5">&lt; 1</text><text x="34.8" y="61.5">1 row</text><text class="e" x="104.3" y="61.5">1 &gt;</text></g>
<g id="object_user" transform="translate(283.4 5548.3)"><rect class="hd" width="109.7" height="24"/><rect class="bd" y="24" width="109.7" height="22"/><rect class="ft" y="46" width="109.7" height="23"/><path class="dv" d="M30 46v23M82 46v23"/><text x="18.1" y="16.5">object_user</text><text x="4" y="38">...</text><text x="4.5" y="61.5">&lt; 2</text><text x="34" y="61.5">0 rows</text></g>

<text x="16.7" y="5658.5">Generated by SchemaSpy</text>
</g>
</svg>
